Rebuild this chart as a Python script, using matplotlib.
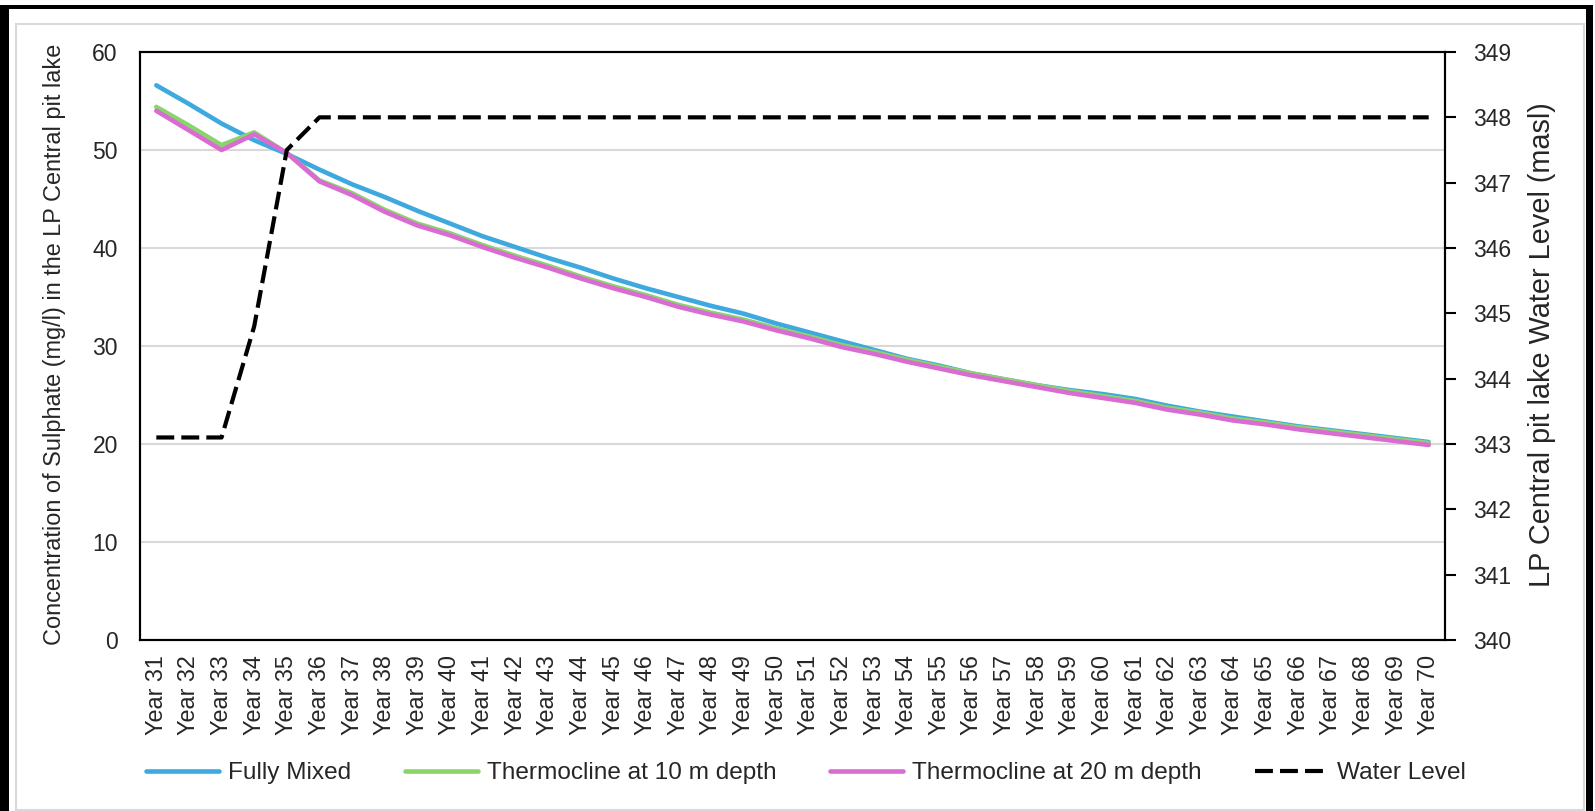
import matplotlib
matplotlib.use("Agg")
import matplotlib.pyplot as plt
from matplotlib.patches import Rectangle

plt.rcParams['font.family'] = ['Liberation Sans', 'DejaVu Sans']

years = [f"Year {y}" for y in range(31, 71)]

fully_mixed = [56.6, 54.7, 52.7, 51.0, 49.6, 48.0, 46.5, 45.2, 43.8, 42.5,
               41.2, 40.1, 39.0, 38.0, 36.9, 35.9, 35.0, 34.1, 33.3, 32.3,
               31.4, 30.5, 29.6, 28.7, 28.0, 27.2, 26.6, 26.0, 25.5, 25.1,
               24.6, 23.9, 23.3, 22.8, 22.3, 21.8, 21.4, 21.0, 20.6, 20.2]

thermo_10m = [54.4, 52.5, 50.5, 51.8, 49.7, 46.9, 45.6, 43.9, 42.5, 41.5,
              40.3, 39.2, 38.2, 37.1, 36.1, 35.2, 34.2, 33.4, 32.7, 31.8,
              31.0, 30.1, 29.4, 28.6, 27.9, 27.2, 26.6, 26.0, 25.4, 24.9,
              24.4, 23.7, 23.2, 22.6, 22.2, 21.7, 21.3, 20.9, 20.5, 20.1]

thermo_20m = [54.0, 52.0, 50.0, 51.6, 49.7, 46.8, 45.4, 43.7, 42.3, 41.3,
              40.1, 39.0, 38.0, 36.9, 35.9, 35.0, 34.0, 33.2, 32.5, 31.6,
              30.8, 29.9, 29.2, 28.4, 27.7, 27.0, 26.4, 25.8, 25.2, 24.7,
              24.2, 23.5, 23.0, 22.4, 22.0, 21.5, 21.1, 20.7, 20.3, 19.9]

water_level = [343.1, 343.1, 343.1, 344.8, 347.5] + [348.0] * 35

W, H = 1595, 811
fig = plt.figure(figsize=(W / 100, H / 100), dpi=100)
fig.patch.set_facecolor('white')

# outer black border (left, top, right) and inner light-grey chart frame
def px_rect(x0, y0, x1, y1, **kw):
    return Rectangle((x0 / W, 1 - y1 / H), (x1 - x0) / W, (y1 - y0) / H,
                     transform=fig.transFigure, **kw)

fig.patches.append(px_rect(0, 5, 9, H, facecolor='black', edgecolor='none'))
fig.patches.append(px_rect(0, 5, 1593, 9, facecolor='black', edgecolor='none'))
fig.patches.append(px_rect(1586, 5, 1593, H, facecolor='black', edgecolor='none'))
fig.patches.append(px_rect(16, 24, 1584, 810, facecolor='none',
                           edgecolor='#d9d9d9', linewidth=1.5))

ax = fig.add_axes([140 / W, 1 - 640 / H, (1445 - 140) / W, (640 - 52) / H])
x = list(range(len(years)))

c_blue = '#3DA9DE'
c_green = '#8AD46C'
c_mag = '#D96BD3'

l1, = ax.plot(x, fully_mixed, color=c_blue, lw=3.3, label='Fully Mixed',
              solid_joinstyle='round', solid_capstyle='round')
l2, = ax.plot(x, thermo_10m, color=c_green, lw=3.3, label='Thermocline at 10 m depth',
              solid_joinstyle='round', solid_capstyle='round')
l3, = ax.plot(x, thermo_20m, color=c_mag, lw=3.3, label='Thermocline at 20 m depth',
              solid_joinstyle='round', solid_capstyle='round')

ax.set_xlim(-0.5, len(years) - 0.5)
ax.set_ylim(0, 60)
ax.set_yticks(range(0, 61, 10))
ax.set_xticks(x)
ax.set_xticklabels(years, rotation=90, fontsize=16.8, color='#262626')
ax.tick_params(axis='x', length=0, pad=11)
ax.tick_params(axis='y', length=0, pad=16, labelsize=16.5, labelcolor='#262626')
ax.grid(axis='y', color='#d9d9d9', lw=1.5)
ax.set_axisbelow(True)
for s in ax.spines.values():
    s.set_color('black')
    s.set_linewidth(1.5)

ax2 = ax.twinx()
l4, = ax2.plot(x, water_level, color='black', lw=3.0, dashes=(4.3, 1.7),
               label='Water Level')
ax2.set_ylim(340, 349)
ax2.set_yticks(range(340, 350))
ax2.tick_params(axis='y', length=8, width=1.5, pad=12, labelsize=16.5,
                labelcolor='#262626', direction='out')
for s in ax2.spines.values():
    s.set_color('black')
    s.set_linewidth(1.5)

fig.text(55 / W, 1 - 344 / H,
         'Concentration of Sulphate (mg/l) in the LP Central pit lake',
         rotation=90, ha='center', va='center', fontsize=16.9, color='#262626')
fig.text(1542 / W, 1 - 345 / H, 'LP Central pit lake Water Level (masl)',
         rotation=90, ha='center', va='center', fontsize=20.8, color='#262626')

fig.legend(handles=[l1, l2, l3, l4], loc='center', ncol=4,
           bbox_to_anchor=(806 / W, 1 - 773 / H), frameon=False,
           fontsize=17.6, handlelength=3.0, handletextpad=0.35,
           columnspacing=2.2, labelcolor='#262626')

fig.savefig('out.png', dpi=100, facecolor='white')
